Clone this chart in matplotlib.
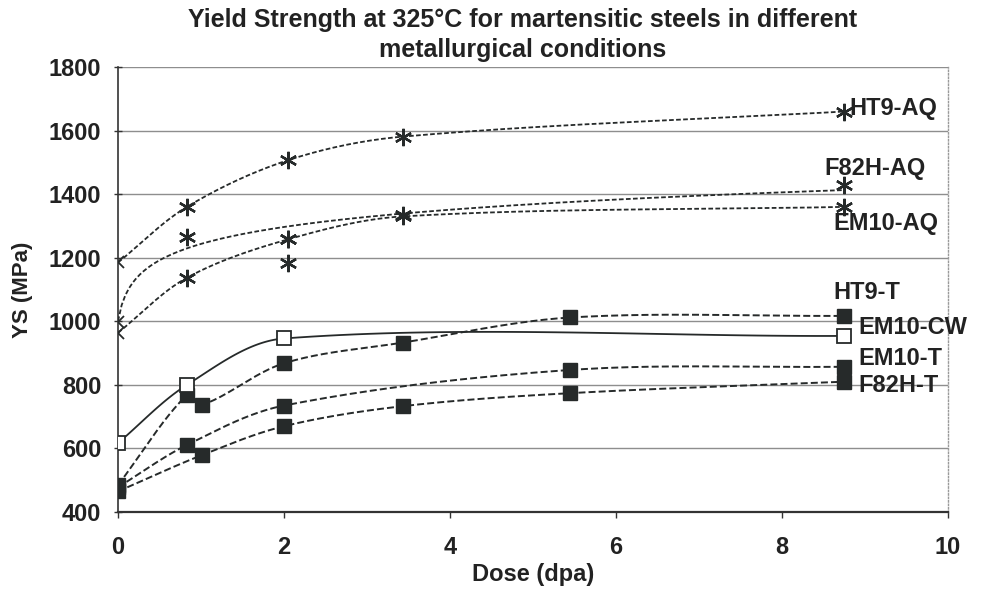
import numpy as np
import matplotlib
matplotlib.use("Agg")
import matplotlib.pyplot as plt

# ---------------- data ----------------
title_text = "Yield Strength at 325°C for martensitic steels in different\nmetallurgical conditions"
x_label = "Dose (dpa)"
y_label = "YS (MPa)"
x_ticks = [0, 2, 4, 6, 8, 10]
y_ticks = [400, 600, 800, 1000, 1200, 1400, 1600, 1800]

ht9_aq_x = [0, 0.83, 2.05, 3.43, 8.75]
ht9_aq_y = [1185, 1360, 1507, 1581, 1660]

f82h_aq_x = [0, 0.83, 2.05, 3.43, 8.75]
f82h_aq_y = [998, 1264, 1258, 1333, 1428]

em10_aq_x = [0, 0.83, 2.05, 3.43, 8.75]
em10_aq_y = [964, 1137, 1258, 1330, 1360]

extra_aq_x = [2.05]
extra_aq_y = [1182]

ht9_t_x = [0, 0.83, 1.01, 2, 3.43, 5.45, 8.75]
ht9_t_y = [485, 768, 737, 868, 933, 1012, 1017]

em10_cw_x = [0, 0.83, 2, 8.75]
em10_cw_y = [617, 800, 946, 954]

em10_t_x = [0, 0.83, 2, 5.45, 8.75]
em10_t_y = [478, 611, 735, 847, 857]

f82h_t_x = [0, 1.01, 2, 3.43, 5.45, 8.75]
f82h_t_y = [465, 579, 670, 733, 774, 810]

# ---------------- styling ----------------
plt.rcParams["font.family"] = ["Liberation Sans", "DejaVu Sans"]
plt.rcParams["font.weight"] = "bold"
TXT = "#222222"
INK = "#262a2a"

fig = plt.figure(figsize=(9.82, 5.94), dpi=100)
ax = fig.add_axes([0.1202, 0.138, 0.8452, 0.7492])
ax.set_xlim(0, 10)
ax.set_ylim(400, 1800)
ax.set_xticks(x_ticks)
ax.set_yticks(y_ticks)
ax.set_axisbelow(True)
ax.yaxis.grid(True, color="#8e8e8e", lw=1.0)
ax.xaxis.grid(False)

ax.spines["top"].set_visible(False)
ax.spines["left"].set_color("#333333")
ax.spines["left"].set_linewidth(1.2)
ax.spines["bottom"].set_color("#333333")
ax.spines["bottom"].set_linewidth(1.6)
ax.spines["right"].set_color("#9a9a9a")
ax.spines["right"].set_linewidth(1.0)
ax.spines["right"].set_linestyle((0, (1, 1.5)))

ax.tick_params(axis="y", direction="inout", length=6, width=1, color="#333333",
               labelsize=17, labelcolor=TXT, pad=9)
ax.tick_params(axis="x", direction="out", length=4, width=1, color="#333333",
               labelsize=17, labelcolor=TXT, pad=13)
for lab in ax.get_xticklabels() + ax.get_yticklabels():
    lab.set_fontweight("bold")

ax.set_xlabel(x_label, fontsize=17, fontweight="bold", color=TXT)
ax.set_ylabel(y_label, fontsize=16, fontweight="bold", color=TXT)
ax.xaxis.set_label_coords(0.5, -0.114)
ax.yaxis.set_label_coords(-0.1024, 0.5)


def smooth_curve(xs, ys, n=40):
    """Excel-like smoothed line (Bezier through the points), in display space."""
    P = ax.transData.transform(np.column_stack([xs, ys]).astype(float))
    m = len(P)
    pts = [P[0]]
    for i in range(m - 1):
        p0, p1 = P[i], P[i + 1]
        L = np.hypot(*(p1 - p0))
        if i == 0:
            c1 = p0 + (p1 - p0) / 3
        else:
            Lp = np.hypot(*(p0 - P[i - 1]))
            c1 = p0 + (p1 - P[i - 1]) * L / (Lp + L) / 3
        if i == m - 2:
            c2 = p1 - (p1 - p0) / 3
        else:
            Ln = np.hypot(*(P[i + 2] - p1))
            c2 = p1 - (P[i + 2] - p0) * L / (L + Ln) / 3
        t = np.linspace(0, 1, n)[1:, None]
        B = (1 - t) ** 3 * p0 + 3 * (1 - t) ** 2 * t * c1 + 3 * (1 - t) * t ** 2 * c2 + t ** 3 * p1
        pts.extend(B)
    return ax.transData.inverted().transform(np.array(pts))


def log_fit_curve(xs, ys, n=200):
    """Least-squares trend y = a + b*ln(x + c)."""
    xs = np.asarray(xs, float)
    ys = np.asarray(ys, float)
    best = None
    for c in np.linspace(0.05, 3.0, 120):
        u = np.log(xs + c)
        b, a = np.polyfit(u, ys, 1)
        sse = np.sum((a + b * u - ys) ** 2)
        if best is None or sse < best[0]:
            best = (sse, a, b, c)
    _, a, b, c = best
    xx = np.linspace(xs.min(), xs.max(), n)
    return xx, a + b * np.log(xx + c)


ASTER = (6, 2, 0)
aq_dash = (0, (2.6, 1.3))
t_dash = (0, (3.6, 1.6))

# AQ series (asterisks, dashed curves)
for xs, ys, fit in [(ht9_aq_x, ht9_aq_y, False),
                    (f82h_aq_x, f82h_aq_y, True),
                    (em10_aq_x, em10_aq_y, False)]:
    if fit:
        cx, cy = log_fit_curve(xs, ys)
    else:
        c = smooth_curve(xs, ys)
        cx, cy = c[:, 0], c[:, 1]
    ax.plot(cx, cy, color=INK, lw=1.3, ls=aq_dash, zorder=3)
    ax.plot(xs[1:], ys[1:], ls="none", marker=ASTER, ms=12.5, mew=1.7,
            color=INK, zorder=4)
    ax.plot(xs[:1], ys[:1], ls="none", marker="x", ms=9, mew=1.3,
            color=INK, zorder=4)
ax.plot(extra_aq_x, extra_aq_y, ls="none", marker=ASTER, ms=12.5, mew=1.7,
        color=INK, zorder=4)

# T series (filled squares, dashed)
for xs, ys in [(ht9_t_x, ht9_t_y), (em10_t_x, em10_t_y), (f82h_t_x, f82h_t_y)]:
    c = smooth_curve(xs, ys)
    ax.plot(c[:, 0], c[:, 1], color=INK, lw=1.4, ls=t_dash, zorder=3)
    ax.plot(xs, ys, ls="none", marker="s", ms=10.5, mfc=INK, mec=INK,
            zorder=4)

# EM10-CW (open squares, solid)
c = smooth_curve(em10_cw_x, em10_cw_y)
ax.plot(c[:, 0], c[:, 1], color=INK, lw=1.3, ls="-", zorder=3)
ax.plot(em10_cw_x, em10_cw_y, ls="none", marker="s", ms=10, mfc="white",
        mec=INK, mew=1.3, zorder=5)

# series labels at the end of each curve
labels = [
    ("HT9-AQ", ht9_aq_x, ht9_aq_y, (4, 2)),
    ("F82H-AQ", f82h_aq_x, f82h_aq_y, (-14, 12)),
    ("EM10-AQ", em10_aq_x, em10_aq_y, (-8, -12)),
    ("HT9-T", ht9_t_x, ht9_t_y, (-8, 17)),
    ("EM10-CW", em10_cw_x, em10_cw_y, (10, 6)),
    ("EM10-T", em10_t_x, em10_t_y, (10, 6)),
    ("F82H-T", f82h_t_x, f82h_t_y, (10, -3)),
]
for name, xs, ys, off in labels:
    ax.annotate(name, xy=(xs[-1], ys[-1]), xytext=off, textcoords="offset points",
                ha="left", va="center", fontsize=17, fontweight="bold",
                color=TXT, zorder=6, annotation_clip=False)

fig.text(0.532, 1 - 35 / 594, title_text, ha="center", va="center",
         fontsize=18, fontweight="bold", color=TXT, linespacing=1.3,
         bbox=dict(facecolor="white", edgecolor="none", pad=4))

fig.savefig("out.png", dpi=100, facecolor="white")
